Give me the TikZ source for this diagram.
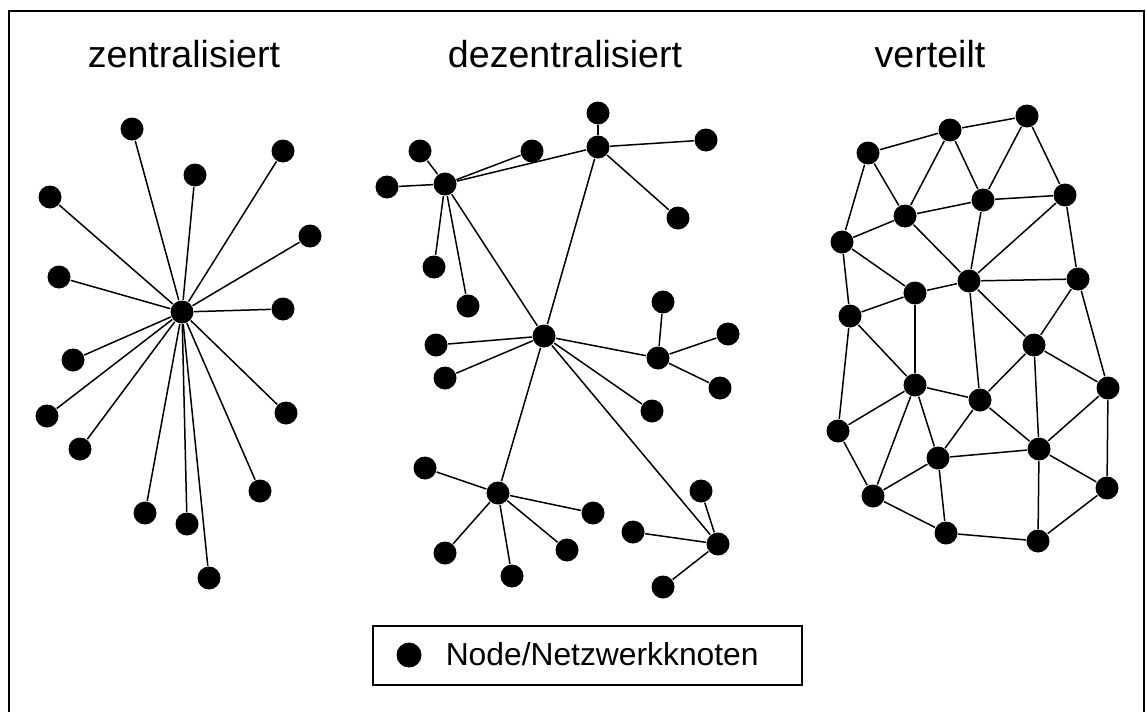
\documentclass[tikz,border=0pt]{standalone}
\usepackage{fontspec}
\setmainfont{Liberation Sans}
\usepackage{tikz}

\begin{document}
\begin{tikzpicture}[x=0.5pt,y=-0.5pt,line width=0.75pt,
                    netz node/.style={circle,fill=black,inner sep=0pt,minimum size=11.5pt},
                    titel/.style={anchor=base,font=\fontsize{18.8}{22}\selectfont}]
  \useasboundingbox (0,0) rectangle (1146,712);
  \draw[line width=1pt] (9,712) -- (9,11) -- (1144,11) -- (1144,712);

  % titles
  \node[titel] (t1) at (184,68) {zentralisiert};
  \node[titel] (t2) at (565,68) {dezentralisiert};
  \node[titel] (t3) at (930,68) {verteilt};

  % zentralisiert
  \node[netz node] (zc) at (182,312) {};
  \node[netz node] (z1) at (132,129) {};
  \node[netz node] (z2) at (195,175) {};
  \node[netz node] (z3) at (283,151) {};
  \node[netz node] (z4) at (50,197) {};
  \node[netz node] (z5) at (310,236) {};
  \node[netz node] (z6) at (59,277) {};
  \node[netz node] (z7) at (283,309) {};
  \node[netz node] (z8) at (73,360) {};
  \node[netz node] (z9) at (47,416) {};
  \node[netz node] (z10) at (286,413) {};
  \node[netz node] (z11) at (80,449) {};
  \node[netz node] (z12) at (260,491) {};
  \node[netz node] (z13) at (145,513) {};
  \node[netz node] (z14) at (187,524) {};
  \node[netz node] (z15) at (209,578) {};

  \foreach \i in {1,...,15}
    \draw (zc) -- (z\i);

  % dezentralisiert
  \node[netz node] (da) at (445,184) {};
  \node[netz node] (db) at (598,147) {};
  \node[netz node] (dc) at (544,336) {};
  \node[netz node] (dd) at (658,358) {};
  \node[netz node] (de) at (498,493) {};
  \node[netz node] (df) at (718,544) {};
  \node[netz node] (a1) at (420,151) {};
  \node[netz node] (a2) at (387,187) {};
  \node[netz node] (a3) at (532,151) {};
  \node[netz node] (a4) at (434,267) {};
  \node[netz node] (a5) at (468,306) {};
  \node[netz node] (b1) at (598,113) {};
  \node[netz node] (b2) at (706,140) {};
  \node[netz node] (b3) at (678,218) {};
  \node[netz node] (c1) at (436,345) {};
  \node[netz node] (c2) at (445,378) {};
  \node[netz node] (c3) at (652,411) {};
  \node[netz node] (d1) at (663,302) {};
  \node[netz node] (d2) at (728,334) {};
  \node[netz node] (d3) at (720,388) {};
  \node[netz node] (e1) at (425,468) {};
  \node[netz node] (e2) at (593,513) {};
  \node[netz node] (e3) at (445,553) {};
  \node[netz node] (e4) at (512,576) {};
  \node[netz node] (e5) at (567,550) {};
  \node[netz node] (f1) at (701,491) {};
  \node[netz node] (f2) at (633,532) {};
  \node[netz node] (f3) at (663,587) {};

  \path
    (da) edge (a1) edge (a2) edge (a3) edge (a4) edge (a5)
         edge (db) edge (dc)
    (db) edge (b1) edge (b2) edge (b3) edge (dc)
    (dc) edge (c1) edge (c2) edge (c3) edge (dd) edge (de) edge (df)
    (dd) edge (d1) edge (d2) edge (d3)
    (de) edge (e1) edge (e2) edge (e3) edge (e4) edge (e5)
    (df) edge (f1) edge (f2) edge (f3)
;

  % verteilt
  \node[netz node] (v1) at (868,153) {};
  \node[netz node] (v2) at (950,130) {};
  \node[netz node] (v3) at (1027,116) {};
  \node[netz node] (v4) at (983,200) {};
  \node[netz node] (v5) at (1065,195) {};
  \node[netz node] (v6) at (905,216) {};
  \node[netz node] (v7) at (842,242) {};
  \node[netz node] (v8) at (969,281) {};
  \node[netz node] (v9) at (1078,279) {};
  \node[netz node] (v10) at (915,293) {};
  \node[netz node] (v11) at (850,316) {};
  \node[netz node] (v12) at (1034,345) {};
  \node[netz node] (v13) at (915,385) {};
  \node[netz node] (v14) at (980,400) {};
  \node[netz node] (v15) at (1108,388) {};
  \node[netz node] (v16) at (838,431) {};
  \node[netz node] (v17) at (938,458) {};
  \node[netz node] (v18) at (1039,449) {};
  \node[netz node] (v19) at (1107,488) {};
  \node[netz node] (v20) at (873,496) {};
  \node[netz node] (v21) at (946,533) {};
  \node[netz node] (v22) at (1038,541) {};

  \path
    (v1) edge (v2) edge (v6) edge (v7)
    (v2) edge (v3) edge (v6) edge (v4)
    (v3) edge (v4) edge (v5)
    (v4) edge (v5) edge (v6) edge (v8)
    (v5) edge (v8) edge (v9)
    (v6) edge (v7) edge (v8)
    (v7) edge (v10) edge (v11)
    (v8) edge (v10) edge (v9) edge (v14) edge (v12)
    (v9) edge (v12) edge (v15)
    (v10) edge (v11) edge (v13)
    (v11) edge (v13) edge (v16)
    (v12) edge (v14) edge (v15) edge (v18)
    (v13) edge (v14) edge (v16) edge (v20) edge (v17)
    (v14) edge (v17) edge (v18)
    (v15) edge (v18) edge (v19)
    (v16) edge (v20)
    (v17) edge (v18) edge (v20) edge (v21)
    (v18) edge (v19) edge (v22)
    (v20) edge (v21)
    (v21) edge (v22)
    (v19) edge (v22)
;

  % legend
  \draw (373,626) rectangle (802,685);
  \node[netz node,minimum size=12.5pt] (punkt) at (409,655) {};
  \node[anchor=base west,inner sep=0pt,font=\fontsize{15.9}{19}\selectfont] (legende) at (445,665) {Node/Netzwerkknoten};
\end{tikzpicture}
\end{document}
